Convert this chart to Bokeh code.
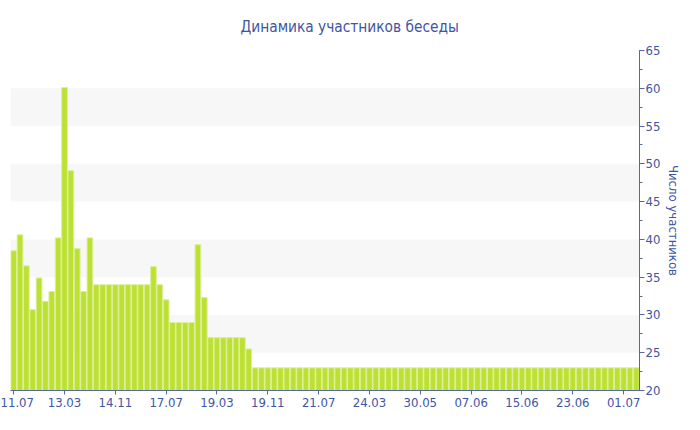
from bokeh.plotting import figure
from bokeh.models import Range1d, FixedTicker, SingleIntervalTicker, ColumnDataSource
from bokeh.embed import file_html
from bokeh.resources import INLINE

participants = [38.5, 40.6, 36.5, 30.7, 34.9, 31.8, 33.1, 40.2, 60.1, 49.1, 38.8, 33.1, 40.2,
                34.0, 34.0, 34.0, 34.0, 34.0, 34.0, 34.0, 34.0, 34.0,
                36.4, 34.0, 32.0, 29.0, 29.0, 29.0, 29.0, 39.3, 32.3,
                27.0, 27.0, 27.0, 27.0, 27.0, 27.0, 25.5,
                23.0, 23.0, 23.0, 23.0, 23.0, 23.0, 23.0, 23.0, 23.0, 23.0,
                23.0, 23.0, 23.0, 23.0, 23.0, 23.0, 23.0, 23.0, 23.0, 23.0,
                23.0, 23.0, 23.0, 23.0, 23.0, 23.0, 23.0, 23.0, 23.0, 23.0,
                23.0, 23.0, 23.0, 23.0, 23.0, 23.0, 23.0, 23.0, 23.0, 23.0,
                23.0, 23.0, 23.0, 23.0, 23.0, 23.0, 23.0, 23.0, 23.0, 23.0,
                23.0, 23.0, 23.0, 23.0, 23.0, 23.0, 23.0, 23.0, 23.0, 23.0,
                23.0]
bar_index = list(range(len(participants)))
tick_positions = [0, 8, 16, 24, 32, 40, 48, 56, 64, 72, 80, 88, 96]
tick_labels = ["11.07", "13.03", "14.11", "17.07", "19.03", "19.11", "21.07",
               "24.03", "30.05", "07.06", "15.06", "23.06", "01.07"]

TEXT = "#3d55a3"
AXIS = "#5467a6"
FONT = "DejaVu Sans Condensed"

src = ColumnDataSource(dict(x=bar_index, top=participants))

p = figure(width=684, height=414, output_backend="svg", toolbar_location=None,
           y_axis_location="right",
           x_range=Range1d(-0.5, len(participants) - 0.5), y_range=Range1d(20, 65),
           min_border_left=10, min_border_right=0, min_border_bottom=24, min_border_top=50)

p.vbar(x="x", top="top", bottom=20, width=0.9, source=src,
       fill_color="#bde133", line_color="#dcef9c", line_width=1)

p.title.text = "Динамика участников беседы"
p.title.align = "left"
p.title.offset = 230
p.title.text_color = TEXT
p.title.text_font = FONT
p.title.text_font_size = "15.3px"
p.title.text_font_style = "normal"
p.title.standoff = 29

p.outline_line_color = None
p.background_fill_color = "white"
p.border_fill_color = "white"

p.xgrid.grid_line_color = None
p.ygrid.grid_line_color = None
p.ygrid.band_fill_color = "#f7f7f7"
p.ygrid.band_fill_alpha = 1.0

xa = p.xaxis[0]
xa.ticker = FixedTicker(ticks=tick_positions)
xa.major_label_overrides = {pos: lab for pos, lab in zip(tick_positions, tick_labels)}
xa.axis_line_color = AXIS
xa.major_tick_line_color = AXIS
xa.major_tick_in = 0
xa.major_tick_out = 4
xa.minor_tick_line_color = None
xa.major_label_text_color = TEXT
xa.major_label_text_font = FONT
xa.major_label_text_font_size = "13px"
xa.major_label_standoff = 3

ya = p.yaxis[0]
ya.ticker = SingleIntervalTicker(interval=5, num_minor_ticks=2)
ya.axis_label = "Число участников"
ya.axis_label_text_color = TEXT
ya.axis_label_text_font = FONT
ya.axis_label_text_font_size = "13px"
ya.axis_label_text_font_style = "normal"
ya.axis_label_standoff = 3
ya.axis_line_color = AXIS
ya.major_tick_line_color = AXIS
ya.minor_tick_line_color = AXIS
ya.major_tick_in = 0
ya.major_tick_out = 5
ya.minor_tick_in = 0
ya.minor_tick_out = 3
ya.major_label_text_color = TEXT
ya.major_label_text_font = FONT
ya.major_label_text_font_size = "13px"
ya.major_label_standoff = 1

open("out.html", "w").write(file_html(p, INLINE))
